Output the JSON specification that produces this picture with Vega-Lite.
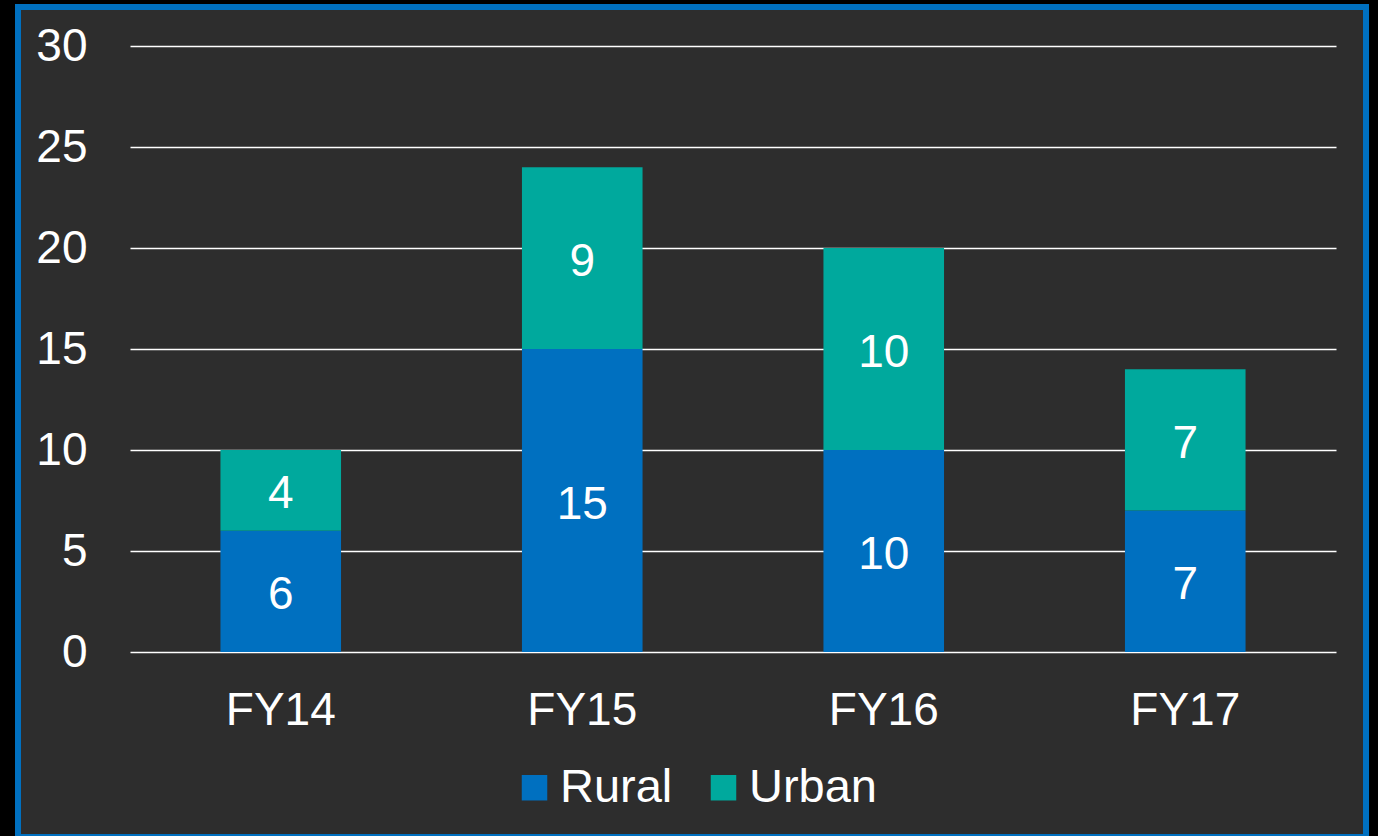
{
  "$schema": "https://vega.github.io/schema/vega-lite/v6.json",
  "autosize": {"type": "none"},
  "width": 1348,
  "height": 830,
  "padding": {"left": 18, "top": 7, "right": 12, "bottom": 0},
  "background": "#000000",
  "config": {
    "view": {"fill": "#2d2d2d", "stroke": "#0070c0", "strokeWidth": 6},
    "font": "Liberation Sans"
  },
  "data": {
    "values": [
      {"year": "FY14", "area": "Rural", "value": 6},
      {"year": "FY14", "area": "Urban", "value": 4},
      {"year": "FY15", "area": "Rural", "value": 15},
      {"year": "FY15", "area": "Urban", "value": 9},
      {"year": "FY16", "area": "Rural", "value": 10},
      {"year": "FY16", "area": "Urban", "value": 10},
      {"year": "FY17", "area": "Rural", "value": 7},
      {"year": "FY17", "area": "Urban", "value": 7}
    ]
  },
  "transform": [
    {"stack": "value", "groupby": ["year"], "sort": [{"field": "area", "order": "ascending"}], "as": ["y0", "y1"]},
    {"calculate": "(datum.y0 + datum.y1) / 2", "as": "mid"}
  ],
  "encoding": {
    "x": {
      "field": "year",
      "type": "nominal",
      "scale": {"range": [112, 1318], "paddingInner": 0.6, "paddingOuter": 0.3},
      "axis": {
        "title": null,
        "orient": "bottom",
        "offset": -113,
        "ticks": false,
        "tickSize": 0,
        "domain": false,
        "labelPadding": 0,
        "labelBaseline": "alphabetic",
        "labelAngle": 0,
        "labelFontSize": 46,
        "labelColor": "#ffffff",
        "labelFont": "Liberation Sans"
      }
    }
  },
  "layer": [
    {
      "mark": {"type": "bar"},
      "encoding": {
        "y": {
          "field": "y0",
          "type": "quantitative",
          "scale": {"domain": [0, 30], "range": [645, 39], "nice": false, "zero": true},
          "axis": {
            "title": null,
            "values": [0, 5, 10, 15, 20, 25, 30],
            "offset": -69,
            "ticks": false,
            "tickSize": 0,
            "domain": false,
            "labelPadding": 0,
            "labelFontSize": 46,
            "labelColor": "#ffffff",
            "labelFont": "Liberation Sans",
            "grid": true,
            "gridColor": "#ffffff",
            "gridWidth": 1.6,
            "gridOpacity": 1
          }
        },
        "y2": {"field": "y1"},
        "color": {
          "field": "area",
          "type": "nominal",
          "scale": {"domain": ["Rural", "Urban"], "range": ["#0070c0", "#00a99d"]},
          "legend": {
            "title": null,
            "orient": "none",
            "direction": "horizontal",
            "legendX": 493,
            "legendY": 757,
            "padding": 0,
            "symbolType": "square",
            "symbolSize": 650,
            "symbolStrokeWidth": 0,
            "symbolOpacity": 1,
            "labelFontSize": 47,
            "labelColor": "#ffffff",
            "labelFont": "Liberation Sans",
            "labelOffset": 2,
            "columnPadding": 27,
            "labelLimit": 300
          }
        }
      }
    },
    {
      "mark": {"type": "text", "color": "#ffffff", "fontSize": 46, "font": "Liberation Sans", "baseline": "middle", "align": "center", "dy": 4},
      "encoding": {
        "y": {"field": "mid", "type": "quantitative"},
        "text": {"field": "value", "type": "quantitative"}
      }
    }
  ]
}
